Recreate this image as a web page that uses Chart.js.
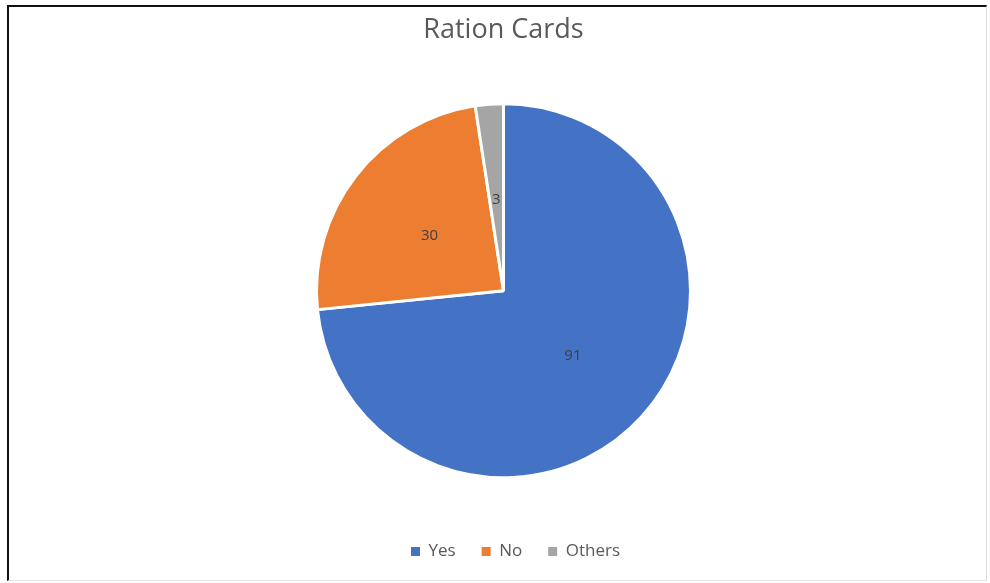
<!DOCTYPE html>
<html>
<head>
<meta charset="utf-8">
<script src="https://cdn.jsdelivr.net/npm/chart.js@4/dist/chart.umd.min.js"></script>
<style>
  html, body { margin: 0; padding: 0; background: #ffffff; }
  #wrap { position: relative; width: 990px; height: 583px; }
  #frame { position: absolute; left: 7px; top: 5px; width: 980px; height: 576px;
           border-left: 2px solid #111; border-top: 2px solid #111;
           border-right: 1px solid #dcdcdc; border-bottom: 1px solid #e8e8e8;
           box-sizing: border-box; pointer-events: none; }
  canvas { position: absolute; left: 0; top: 0; }
</style>
</head>
<body>
<div id="wrap">
  <canvas id="c" width="990" height="583"></canvas>
  <div id="frame"></div>
</div>
<script>
const chartTitle = "Ration Cards";
const categories = ["Yes", "No", "Others"];
const values = [91, 30, 3];
const colors = ["#4472C4", "#ED7D31", "#A5A5A5"];

const valueLabels = {
  id: 'valueLabels',
  afterDatasetsDraw(chart) {
    const ctx = chart.ctx;
    const meta = chart.getDatasetMeta(0);
    ctx.save();
    ctx.font = '15px "Open Sans", sans-serif';
    ctx.fillStyle = '#404040';
    ctx.textAlign = 'center';
    ctx.textBaseline = 'middle';
    meta.data.forEach((arc, i) => {
      const p = arc.tooltipPosition();
      ctx.fillText(String(chart.data.datasets[0].data[i]), p.x, p.y + 2);
    });
    ctx.restore();
  }
};

const legendShift = {
  id: 'legendShift',
  afterLayout(chart) {
    const lg = chart.legend;
    if (lg) { lg.left += 12; lg.right += 12; }
  }
};

const defaultPieLabels = Chart.overrides.pie.plugins.legend.labels.generateLabels;

new Chart(document.getElementById('c'), {
  type: 'pie',
  data: {
    labels: categories,
    datasets: [{
      data: values,
      backgroundColor: colors,
      borderColor: '#ffffff',
      borderWidth: 3
    }]
  },
  options: {
    responsive: false,
    animation: false,
    radius: 187,
    layout: { padding: { left: 17, right: 0, top: 0, bottom: 13 } },
    plugins: {
      title: {
        display: true,
        text: chartTitle,
        color: '#595959',
        font: { family: '"Open Sans", sans-serif', size: 27, weight: 'normal', lineHeight: 1.2 },
        padding: { top: 14, bottom: 18 }
      },
      legend: {
        display: true,
        position: 'bottom',
        labels: {
          color: '#595959',
          font: { family: '"Open Sans", sans-serif', size: 17 },
          boxWidth: 9,
          boxHeight: 9,
          padding: 26,
          generateLabels(chart) {
            return defaultPieLabels(chart).map(l => Object.assign(l, { lineWidth: 0, strokeStyle: l.fillStyle }));
          }
        }
      },
      tooltip: { enabled: false }
    }
  },
  plugins: [valueLabels, legendShift]
});
</script>
</body>
</html>
